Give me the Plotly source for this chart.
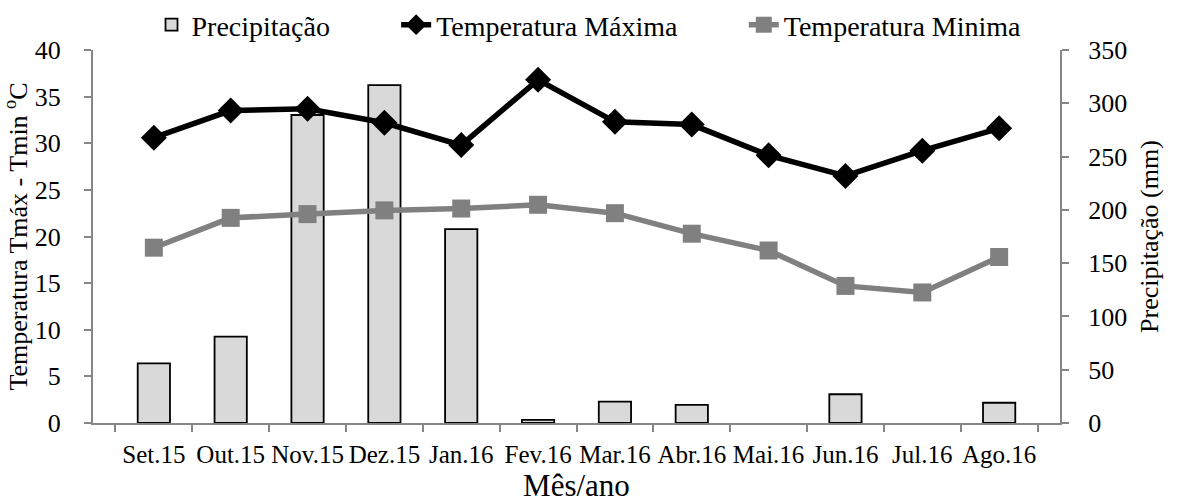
import plotly.graph_objects as go

meses = ["Set.15", "Out.15", "Nov.15", "Dez.15", "Jan.16", "Fev.16", "Mar.16",
         "Abr.16", "Mai.16", "Jun.16", "Jul.16", "Ago.16"]
precipitacao = [56, 81, 289, 317, 182, 3, 20, 17, 0, 27, 0, 19]
temp_max = [30.6, 33.5, 33.7, 32.2, 29.8, 36.8, 32.3, 32.0, 28.7, 26.5, 29.2, 31.6]
temp_min = [18.8, 22.0, 22.4, 22.8, 23.0, 23.4, 22.5, 20.3, 18.5, 14.7, 14.0, 17.8]

FONT = "Liberation Serif"
AX = "#868686"

def f(size):
    return dict(family=FONT, size=size, color="black")

fig = go.Figure()
fig.add_trace(go.Bar(
    x=meses, y=precipitacao, name="Precipitação", yaxis="y", legend="legend",
    marker=dict(color="#d9d9d9",
                line=dict(color="black", width=[0 if v == 0 else 1.8 for v in precipitacao])),
    width=0.42,
))
fig.add_trace(go.Scatter(
    x=meses, y=temp_max, name="Temperatura Máxima", yaxis="y2", legend="legend2",
    mode="lines+markers", line=dict(color="black", width=5.5),
    marker=dict(symbol="diamond", size=20, color="black"),
))
fig.add_trace(go.Scatter(
    x=meses, y=temp_min, name="Temperatura Minima", yaxis="y2", legend="legend3",
    mode="lines+markers", line=dict(color="#808080", width=5.5),
    marker=dict(symbol="square", size=18, color="#808080"),
))

leg = dict(orientation="h", xanchor="left", y=1.067, yanchor="middle",
           font=f(28), itemwidth=30, bgcolor="rgba(0,0,0,0)")

fig.update_layout(
    width=1179, height=503,
    margin=dict(l=93, r=119, t=50, b=80, autoexpand=False),
    paper_bgcolor="white", plot_bgcolor="white",
    font=f(25),
    showlegend=True,
    legend=dict(leg, x=0.0605),
    legend2=dict(leg, x=0.3135),
    legend3=dict(leg, x=0.673),
    xaxis=dict(
        type="category", showline=True, linecolor=AX, linewidth=2,
        ticks="outside", tickson="boundaries", tickcolor=AX, ticklen=7, tickwidth=2,
        tickfont=f(25), tickangle=0, showgrid=False, ticklabelstandoff=8,
        automargin=False,
        title=dict(text="Mês/ano", font=f(31), standoff=10),
    ),
    yaxis=dict(
        side="right", range=[0, 350], dtick=50, showline=True, linecolor=AX, linewidth=2,
        ticks="outside", tickcolor=AX, ticklen=7, tickwidth=2, showgrid=False, zeroline=False,
        tickfont=f(26), ticklabelstandoff=14, automargin=False,
        title=dict(text="Precipitação (mm)", font=f(26), standoff=14),
    ),
    yaxis2=dict(
        overlaying="y", side="left", range=[0, 40], dtick=5, showline=True, linecolor=AX,
        linewidth=2, ticks="outside", tickcolor=AX, ticklen=7, tickwidth=2, showgrid=False,
        zeroline=False, tickfont=f(26), ticklabelstandoff=18, automargin=False,
        title=dict(text="Temperatura Tmáx - Tmin <sup>o</sup>C", font=f(26), standoff=0),
    ),
)

fig.write_html("out.html")
